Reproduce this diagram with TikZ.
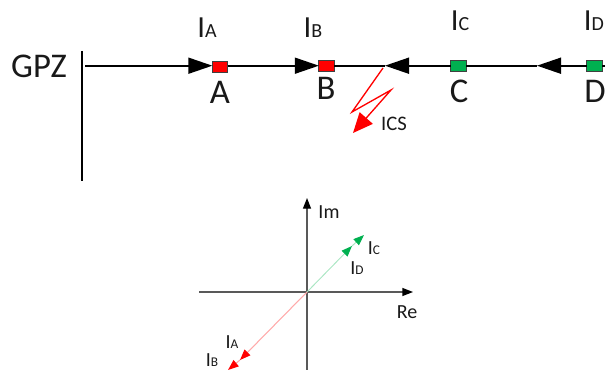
\documentclass[tikz,border=0pt]{standalone}
\usepackage{fontspec}
\setmainfont{Carlito}
\usetikzlibrary{arrows.meta}
\definecolor{gr}{RGB}{0,176,80}
\definecolor{lgr}{RGB}{170,230,195}
\definecolor{lrd}{RGB}{255,170,170}
\newcommand{\Lbl}[3]{{\fontsize{#1}{#1}\selectfont I}{\fontsize{#2}{#2}\selectfont #3}}
\tikzset{
 wire/.style={draw=black,line width=1.25pt},
 bus/.style={draw=black,line width=1.1pt},
 flow/.style={draw=black,line width=1.25pt,-{Triangle[length=18pt,width=12pt]}},
 stn/.style={draw=black!75,line width=0.6pt,minimum width=11.5pt,minimum height=8pt,inner sep=0pt,outer sep=0pt},
 txt/.style={inner sep=0pt,outer sep=0pt,text=black!90},
 axis/.style={draw=black!65,line width=1pt,-{Triangle[length=8pt,width=6pt,color=black]}},
 phg/.style={draw=lgr,line width=0.7pt,-{Triangle[length=8pt,width=6pt,color=gr]}},
 phr/.style={draw=lrd,line width=0.8pt,-{Triangle[length=8pt,width=6pt,color=red]}},
}
\begin{document}
\begin{tikzpicture}[x=0.75pt,y=-0.75pt]
\useasboundingbox (0,0) rectangle (605,370);
% busbar
\coordinate (bt) at (82,51); \coordinate (bb) at (82,181);
\draw[bus] (bt) -- (bb);
\coordinate (s0) at (85,65.7);
\coordinate (e0) at (605,65.7);
\node[stn,fill=red] (A) at (220,67) {};
\node[stn,fill=red] (B) at (326.5,65.7) {};
\node[stn,fill=gr] (C) at (458.5,65.7) {};
\node[stn,fill=gr] (D) at (594.5,65.7) {};
\coordinate (ja) at (385,65.7);
\coordinate (dt) at (537,65.7);
\coordinate (fa) at (383,68);
\draw[flow] (s0) -- (A.west |- s0);
\draw[flow] (A.east |- s0) -- (B.west);
\draw[flow] (C.west) -- (ja);
\draw[flow] (D.west) -- (dt);
\draw[wire] (ja) -- (B.east);
\draw[wire] (dt) -- (C.east);
\draw[wire] (D.east) -- (e0);
% fault
\coordinate (f1) at (352,112);
\coordinate (f2) at (391,90);
\coordinate (f3) at (353,133);
\draw[red,line width=1pt,-{Triangle[length=15pt,width=13pt]}] (fa) -- (f1) -- (f2) -- (f3);
% labels
\node[txt,font=\fontsize{26}{26}\selectfont] (gpz) at (39,66) {GPZ};
\node[txt,font=\fontsize{26}{26}\selectfont] (la) at (220,92) {A};
\node[txt,font=\fontsize{26}{26}\selectfont] (lb) at (326,88) {B};
\node[txt,font=\fontsize{26}{26}\selectfont] (lc) at (459,91) {C};
\node[txt,font=\fontsize{26}{26}\selectfont] (ld) at (595,91) {D};
\node[txt] (ia) at (207,28) {\Lbl{23}{15}{A}};
\node[txt] (ib) at (313,28) {\Lbl{23}{15}{B}};
\node[txt] (ic) at (460,21) {\Lbl{23}{15}{C}};
\node[txt] (id) at (594,21) {\Lbl{23}{15}{D}};
\node[txt,font=\fontsize{15.5}{15.5}\selectfont] (ics) at (394,124) {ICS};
% phasor diagram
\coordinate (O) at (307,292);
\coordinate (rel) at (199,292); \coordinate (rer) at (413,292);
\coordinate (imb) at (307,370); \coordinate (imt) at (307,198);
\draw[axis] (rel) -- (rer);
\draw[axis] (imb) -- (imt);
\coordinate (gm) at (352,246); \coordinate (gt) at (364,235);
\coordinate (rm) at (240,360); \coordinate (rt) at (228,370);
\draw[phg] (O) -- (gm);
\draw[phg] (gm) -- (gt);
\draw[phr] (O) -- (rm);
\draw[phr] (rm) -- (rt);
\node[txt,font=\fontsize{15}{15}\selectfont] (re) at (407,312) {Re};
\node[txt,font=\fontsize{15}{15}\selectfont] (im) at (329,212) {Im};
\node[txt] (pc) at (374,248) {\Lbl{15}{10}{C}};
\node[txt] (pd) at (357,268) {\Lbl{15}{10}{D}};
\node[txt] (pa) at (232,342) {\Lbl{15}{10}{A}};
\node[txt] (pb) at (212,360) {\Lbl{15}{10}{B}};
\end{tikzpicture}
\end{document}
